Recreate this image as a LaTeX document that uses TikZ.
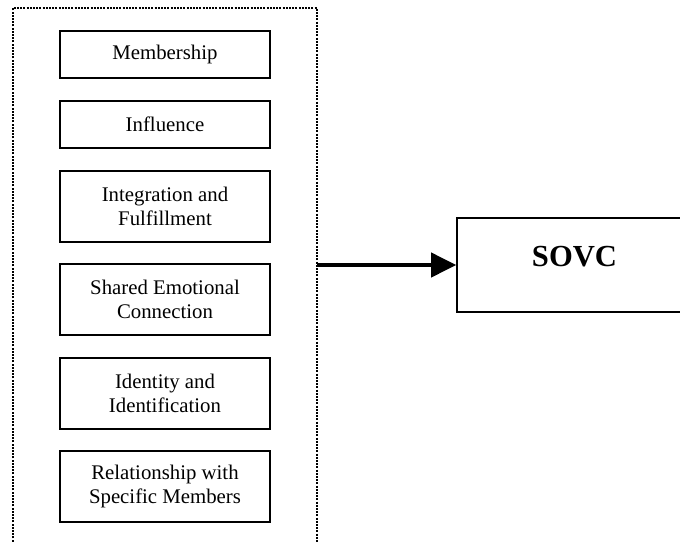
\documentclass[tikz,border=0pt]{standalone}
\usepackage{fontspec}
\setmainfont{Liberation Serif}
\usetikzlibrary{arrows.meta}
\begin{document}
\begin{tikzpicture}[x=0.5pt,y=-0.5pt,
  itembox/.style={draw, line width=0.8pt, minimum width=105pt, inner sep=0pt,
    align=center, font=\fontsize{10.4}{11.7}\selectfont},
  onebox/.style={itembox, minimum height=23.5pt},
  twobox/.style={itembox, minimum height=35.5pt},
  frameline/.style={line width=1pt, dash pattern=on 1pt off 0.6pt},
  mainarrow/.style={line width=2pt, -{Triangle[length=12.5pt,width=12pt]}}]
\useasboundingbox (0,0) rectangle (680,542);
\clip (0,0) rectangle (680,542);
% dotted frame (open at the bottom)
\draw[frameline] (13,548) -- (13,8) -- (317,8) -- (317,548);
\coordinate (fr) at (317,265);
% factor boxes
\node[onebox] (m) at (165,54.5) {Membership};
\node[onebox] (inf) at (165,124.5) {Influence};
\node[twobox] (int) at (165,206.5) {Integration and\\Fulfillment};
\node[twobox] (sec) at (165,299.5) {Shared Emotional\\Connection};
\node[twobox] (idn) at (165,393.5) {Identity and\\Identification};
\node[twobox] (rel) at (165,486.5) {Relationship with\\Specific Members};
% SOVC box (right side runs past the picture edge)
\node[draw, line width=0.8pt, minimum width=117.5pt, minimum height=47pt, inner sep=0pt,
  label={[anchor=base, yshift=4pt, font=\fontsize{15.3}{18}\selectfont\bfseries]center:SOVC}]
  (s) at (574.5,265) {};
\draw[mainarrow] (fr) -- (s.west);
\end{tikzpicture}
\end{document}
